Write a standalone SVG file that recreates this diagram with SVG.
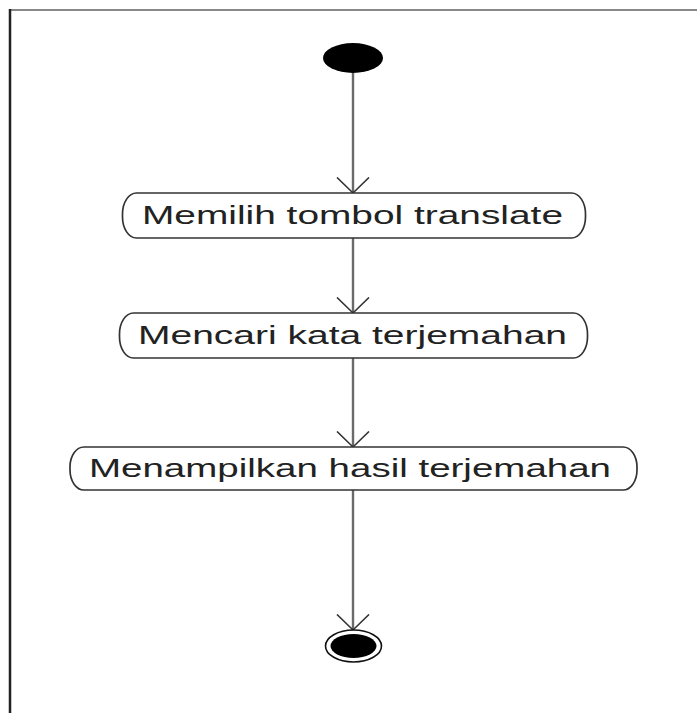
<svg xmlns="http://www.w3.org/2000/svg" width="697" height="713" viewBox="0 0 697 713">
  <defs>
    <marker id="open-arrow" markerWidth="20" markerHeight="36" refX="16.5" refY="17" orient="auto" markerUnits="userSpaceOnUse" viewBox="0 0 20 36">
      <path d="M1,1 L16.5,17 L1,33" fill="none" stroke="#333" stroke-width="1.6"/>
    </marker>
    <style>
      .frame-top { stroke: #888; stroke-width: 2; }
      .frame-left { stroke: #222; stroke-width: 2.5; }
      .flow { stroke: #6a6a6a; stroke-width: 2.4; fill: none; marker-end: url(#open-arrow); }
      .action { fill: #fff; stroke: #333; stroke-width: 1.7; }
      .label { font-family: "Liberation Sans", Arial, sans-serif; font-size: 26px; fill: #222; }
    </style>
  </defs>

  <rect x="0" y="0" width="697" height="713" fill="#fff"/>

  <!-- activity frame edges -->
  <line class="frame-top" x1="9" y1="10" x2="697" y2="10"/>
  <line class="frame-left" x1="10" y1="9" x2="10" y2="713"/>

  <!-- control flows -->
  <g id="connectors">
    <line class="flow" x1="353" y1="73" x2="353" y2="193"/>
    <line class="flow" x1="353" y1="238" x2="353" y2="313"/>
    <line class="flow" x1="353" y1="358" x2="353" y2="447"/>
    <line class="flow" x1="353" y1="490" x2="353" y2="630"/>
  </g>

  <!-- initial node -->
  <g id="start">
    <ellipse cx="353" cy="58" rx="30" ry="15" fill="#000"/>
  </g>

  <!-- actions -->
  <g id="memilih-tombol">
    <rect class="action" x="122.5" y="193" width="463" height="45" rx="14" ry="21"/>
    <text class="label" x="142" y="224" textLength="421" lengthAdjust="spacingAndGlyphs">Memilih tombol translate</text>
  </g>

  <g id="mencari-kata">
    <rect class="action" x="119.5" y="313" width="468" height="45" rx="14" ry="21"/>
    <text class="label" x="138" y="344" textLength="429" lengthAdjust="spacingAndGlyphs">Mencari kata terjemahan</text>
  </g>

  <g id="menampilkan-hasil">
    <rect class="action" x="70" y="447" width="567" height="43" rx="14" ry="20"/>
    <text class="label" x="89" y="477" textLength="522" lengthAdjust="spacingAndGlyphs">Menampilkan hasil terjemahan</text>
  </g>

  <!-- final node -->
  <g id="end">
    <ellipse cx="353.5" cy="646" rx="28" ry="16" fill="#fff" stroke="#111" stroke-width="1.6"/>
    <ellipse cx="353.5" cy="646" rx="23" ry="12" fill="#000"/>
  </g>
</svg>
